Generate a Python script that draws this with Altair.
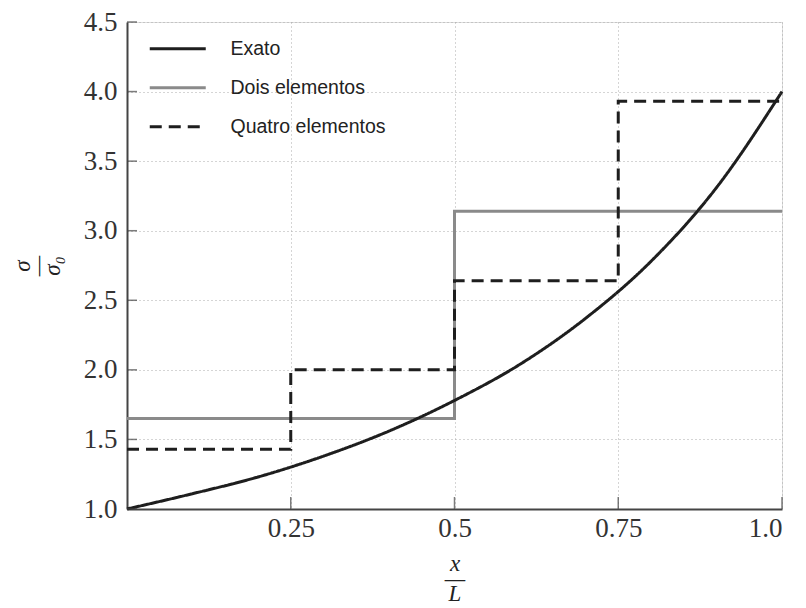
import altair as alt
import pandas as pd

# ---- data ----
series = ["Exato", "Dois elementos", "Quatro elementos"]

exact_x = [0.0, 0.1, 0.2, 0.3, 0.4, 0.5, 0.6, 0.7, 0.8, 0.9, 1.0]
exact_y = [1.0, 1.11, 1.23, 1.38, 1.56, 1.78, 2.04, 2.37, 2.78, 3.31, 4.0]

two_x = [0.0, 0.5, 1.0]
two_y = [1.65, 3.14, 3.14]

four_x = [0.0, 0.25, 0.5, 0.75, 1.0]
four_y = [1.43, 2.0, 2.64, 3.93, 3.93]

x_ticks = [0.25, 0.5, 0.75, 1.0]
y_ticks = [1.0, 1.5, 2.0, 2.5, 3.0, 3.5, 4.0, 4.5]

W, H = 655, 487

exact_df = pd.DataFrame({"x": exact_x, "y": exact_y, "s": series[0]})
two_df = pd.DataFrame({"x": two_x, "y": two_y, "s": series[1]})
four_df = pd.DataFrame({"x": four_x, "y": four_y, "s": series[2]})

xscale = alt.Scale(domain=[0, 1], nice=False, zero=False)
yscale = alt.Scale(domain=[1.0, 4.5], nice=False, zero=False)
color_scale = alt.Scale(domain=series, range=["#1e1e1e", "#8a8a8a", "#1e1e1e"])
dash_scale = alt.Scale(domain=series, range=[[1, 0], [1, 0], [12, 7]])

xaxis = alt.Axis(
    values=x_ticks,
    labelExpr="datum.value == 1 ? '1.0' : format(datum.value, '.2~f')",
    title=["x", "\u2014", "L"],
    titleFont="Liberation Serif", titleFontStyle="italic", titleFontWeight="normal",
    titleFontSize=23, titleLineHeight=15, titleColor="#222",
    titleBaseline="middle", titleAlign="center", titleY=54, titleX=W / 2,
    labelFont="Liberation Serif", labelFontSize=27, labelColor="#333",
    labelPadding=6, tickSize=0,
    grid=True, gridDash=[1, 3], gridColor="#aaa", gridWidth=1,
    domainColor="#444", domainWidth=2,
)
yaxis = alt.Axis(
    values=y_ticks, format=".1f",
    title=["\u03c3", "\u2014", "\u03c3\u2080"],
    titleFont="Liberation Serif", titleFontStyle="italic", titleFontWeight="normal",
    titleFontSize=23, titleLineHeight=15, titleColor="#222",
    titleBaseline="middle", titleAlign="center", titleAngle=270,
    titleX=-105, titleY=H / 2,
    labelFont="Liberation Serif", labelFontSize=27, labelColor="#333",
    labelPadding=10, tickSize=0,
    grid=True, gridDash=[1, 3], gridColor="#aaa", gridWidth=1,
    domainColor="#444", domainWidth=2,
)

legend = alt.Legend(
    orient="none", legendX=41, legendY=17, title=None, padding=0,
    symbolType="M-4,0H4", symbolSize=196, symbolStrokeWidth=3,
    labelFont="Liberation Sans", labelFontSize=19.5, labelColor="#222",
    labelOffset=43, rowPadding=18,
)

X = alt.X("x:Q", scale=xscale, axis=xaxis)
Y = alt.Y("y:Q", scale=yscale, axis=yaxis)


def enc(chart):
    return chart.encode(
        x=X, y=Y,
        color=alt.Color("s:N", scale=color_scale, legend=legend),
        strokeDash=alt.StrokeDash("s:N", scale=dash_scale, legend=legend),
    )


two = enc(alt.Chart(two_df).mark_line(interpolate="step-after", strokeWidth=3))
four = enc(alt.Chart(four_df).mark_line(interpolate="step-after", strokeWidth=3))
exact = enc(alt.Chart(exact_df).mark_line(interpolate="monotone", strokeWidth=3))

yt = alt.Chart(pd.DataFrame({"y": y_ticks})).mark_tick(
    orient="horizontal", size=10, thickness=1.5, color="#444"
).encode(y=Y, x=alt.value(5))

xt = alt.Chart(pd.DataFrame({"x": x_ticks})).mark_tick(
    orient="vertical", size=12, thickness=1.5, color="#444"
).encode(x=X, y=alt.value(H - 6))

chart = alt.layer(two, four, exact, yt, xt).properties(
    width=W, height=H,
    autosize=alt.AutoSizeParams(type="none"),
    padding={"left": 119, "top": 14, "right": 10, "bottom": 95},
).configure_view(stroke="#444", strokeWidth=2).configure(background="white")

chart.save("out.html", embed_options={"renderer": "svg", "actions": False})
